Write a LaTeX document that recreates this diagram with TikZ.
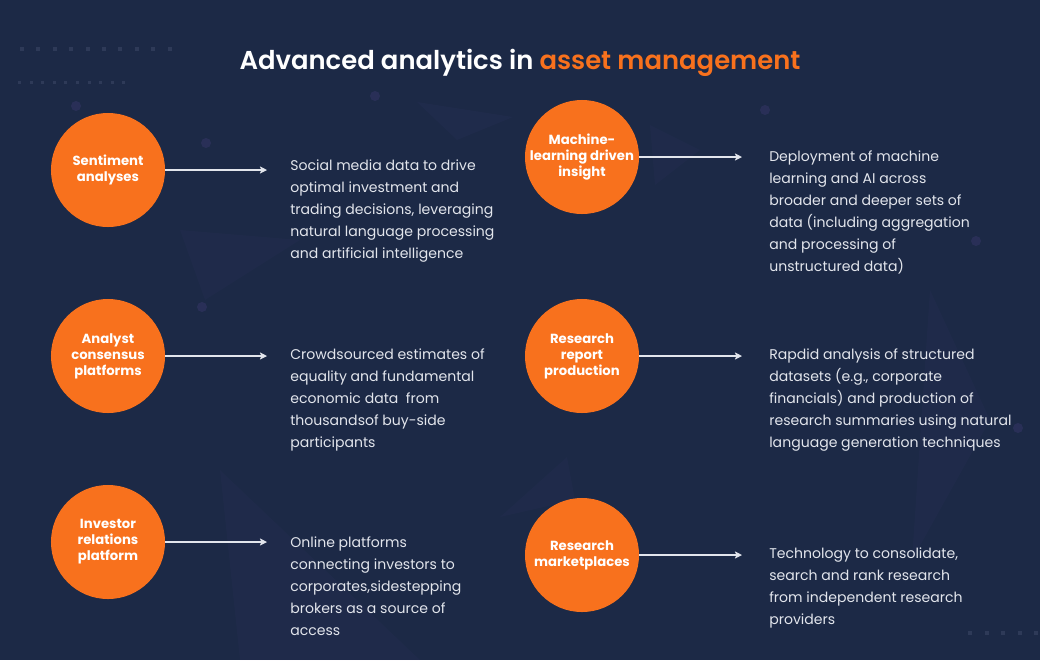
\documentclass[tikz,border=0pt]{standalone}
\usepackage{fontspec}
\setmainfont{Poppins}
\newfontfamily\titlefont{Poppins SemiBold}
\usetikzlibrary{arrows.meta}
\definecolor{navy}{RGB}{28,41,70}
\definecolor{brand}{RGB}{248,113,29}
\definecolor{ink}{RGB}{226,229,236}
\definecolor{haze}{RGB}{72,64,128}
\definecolor{speck}{RGB}{46,58,88}
\begin{document}
\begin{tikzpicture}[x=0.025cm,y=-0.025cm,
    topic/.style={circle,fill=brand,minimum size=2.85cm,inner sep=0pt,align=center,
      text=white,font=\bfseries\fontsize{9.4}{11.4}\selectfont},
    blurb/.style={anchor=base west,align=left,inner sep=0pt,text=ink,
      font=\fontsize{10}{15.6}\selectfont},
    link/.style={draw=ink,line width=0.8pt,-{Stealth[length=5pt,width=5pt,inset=1pt]},shorten >=#1},
    link/.default=0.575cm]
    % Background
    \fill[navy] (0,0) rectangle (1040,660);
    % Faint shards
    \fill[haze,opacity=0.09] (417,102) -- (513,117) -- (457,140) -- cycle;
    \fill[haze,opacity=0.08] (650,125) -- (700,150) -- (655,185) -- cycle;
    \fill[haze,opacity=0.07] (180,230) -- (300,240) -- (205,300) -- cycle;
    \fill[haze,opacity=0.08] (930,290) -- (990,420) -- (912,560) -- cycle;
    \fill[haze,opacity=0.07] (220,470) -- (420,660) -- (240,660) -- cycle;
    \fill[haze,opacity=0.07] (500,517) -- (567,457) -- (575,500) -- cycle;
    % Dots
    \foreach \x in {0,...,9} \fill[speck] (20+16.4*\x,47) rectangle ++(4,4);
    \foreach \x in {0,...,9} \fill[speck] (18+11.6*\x,81) rectangle ++(3,3);
    \foreach \x in {0,...,4} \fill[speck] (968+16.5*\x,631) rectangle ++(4,4);
    \foreach \p in {(76,106),(206,143),(375,96),(202,307),(765,110),(1018,428),(976,241)}
      \fill[haze,opacity=0.3] \p circle (5);
    % Title
    \node[anchor=base,text=white,font=\titlefont\fontsize{18.4}{22}\selectfont] (title) at (520,69)
      {Advanced analytics in \textcolor{brand}{asset management}};
    % Left column (blurbs sit on their last line)
    \node[topic] (sent) at (108,170) {Sentiment\\analyses};
    \node[blurb] (sentText) at (290,258) {Social media data to drive\\optimal investment and\\trading decisions, leveraging\\natural language processing\\and artificial intelligence};
    \draw[link] (sent) -- (sent -| sentText.west);
    \node[topic] (cons) at (108,356) {Analyst\\consensus\\platforms};
    \node[blurb] (consText) at (290,447) {Crowdsourced estimates of\\equality and fundamental\\economic data\ \ from\\thousandsof buy-side\\participants};
    \draw[link] (cons) -- (cons -| consText.west);
    \node[topic] (inv) at (108,542) {Investor\\relations\\platform};
    \node[blurb] (invText) at (290,635) {Online platforms\\connecting investors to\\corporates,sidestepping\\brokers as a source of\\access};
    \draw[link] (inv) -- (inv -| invText.west);
    % Right column
    \node[topic] (ml) at (582,157) {Machine-\\learning driven\\insight};
    \node[blurb] (mlText) at (769,271) {Deployment of machine\\learning and AI across\\broader and deeper sets of\\data (including aggregation\\and processing of\\unstructured data)};
    \draw[link=0.675cm] (ml) -- (ml -| mlText.west);
    \node[topic] (report) at (582,356) {Research\\report\\production};
    \node[blurb] (reportText) at (769,447) {Rapdid analysis of structured\\datasets (e.g., corporate\\financials) and production of\\research summaries using natural\\language generation techniques};
    \draw[link=0.675cm] (report) -- (report -| reportText.west);
    \node[topic] (market) at (582,555) {Research\\marketplaces};
    \node[blurb] (marketText) at (769,624) {Technology to consolidate,\\search and rank research\\from independent research\\providers};
    \draw[link=0.675cm] (market) -- (market -| marketText.west);
\end{tikzpicture}
\end{document}
